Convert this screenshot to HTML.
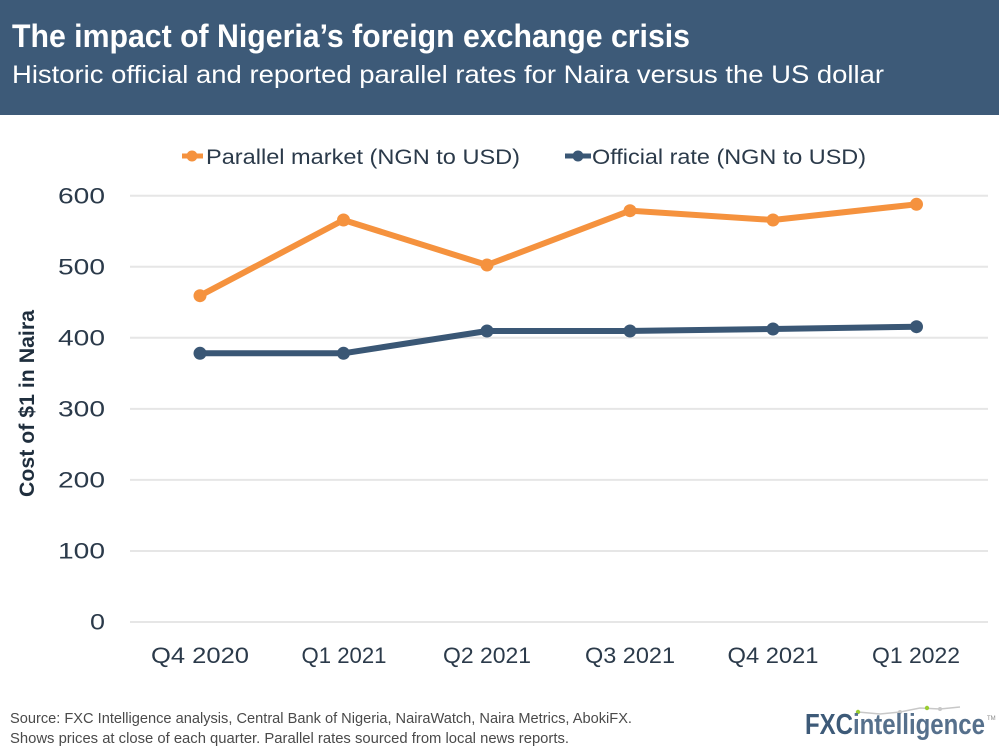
<!DOCTYPE html>
<html><head><meta charset="utf-8"><style>
html,body{margin:0;padding:0;background:#fff;}
svg{display:block;}
</style></head><body>
<svg width="999" height="749" viewBox="0 0 999 749" xmlns="http://www.w3.org/2000/svg" font-family="Liberation Sans, sans-serif">
<rect x="0" y="0" width="999" height="115" fill="#3d5a78"/>
<text x="12" y="47" font-size="32" font-weight="bold" fill="#ffffff" textLength="678" lengthAdjust="spacingAndGlyphs">The impact of Nigeria’s foreign exchange crisis</text>
<text x="12" y="83" font-size="25" fill="#ffffff" textLength="872" lengthAdjust="spacingAndGlyphs">Historic official and reported parallel rates for Naira versus the US dollar</text>

<!-- legend -->
<line x1="182" y1="156" x2="203" y2="156" stroke="#f5923e" stroke-width="5"/>
<circle cx="192" cy="156" r="5.5" fill="#f5923e"/>
<text x="206" y="164" font-size="21" fill="#2b3a4a" textLength="314" lengthAdjust="spacingAndGlyphs">Parallel market (NGN to USD)</text>
<line x1="565" y1="156" x2="591" y2="156" stroke="#3a5775" stroke-width="5"/>
<circle cx="578" cy="156" r="5.5" fill="#3a5775"/>
<text x="592" y="164" font-size="21" fill="#2b3a4a" textLength="274" lengthAdjust="spacingAndGlyphs">Official rate (NGN to USD)</text>

<!-- gridlines -->
<g stroke="#e6e6e6" stroke-width="2">
<line x1="130" y1="195.7" x2="988" y2="195.7"/>
<line x1="130" y1="266.8" x2="988" y2="266.8"/>
<line x1="130" y1="337.8" x2="988" y2="337.8"/>
<line x1="130" y1="408.9" x2="988" y2="408.9"/>
<line x1="130" y1="479.9" x2="988" y2="479.9"/>
<line x1="130" y1="551" x2="988" y2="551"/>
<line x1="130" y1="622" x2="988" y2="622"/>
</g>

<!-- y labels -->
<g font-size="22" fill="#2b3a4a">
<text x="58" y="203.5" textLength="47" lengthAdjust="spacingAndGlyphs">600</text>
<text x="58" y="274.5" textLength="47" lengthAdjust="spacingAndGlyphs">500</text>
<text x="58" y="345.5" textLength="47" lengthAdjust="spacingAndGlyphs">400</text>
<text x="58" y="416.5" textLength="47" lengthAdjust="spacingAndGlyphs">300</text>
<text x="58" y="487.5" textLength="47" lengthAdjust="spacingAndGlyphs">200</text>
<text x="58" y="558.5" textLength="47" lengthAdjust="spacingAndGlyphs">100</text>
<text x="90" y="629.5" textLength="15" lengthAdjust="spacingAndGlyphs">0</text>
</g>

<text transform="translate(34,403.5) rotate(-90)" text-anchor="middle" font-size="21" font-weight="bold" fill="#1f2e3d" textLength="187" lengthAdjust="spacingAndGlyphs">Cost of $1 in Naira</text>

<!-- x labels -->
<g font-size="22" fill="#2b3a4a" text-anchor="middle">
<text x="200" y="663" textLength="98" lengthAdjust="spacingAndGlyphs">Q4 2020</text>
<text x="344" y="663" textLength="85" lengthAdjust="spacingAndGlyphs">Q1 2021</text>
<text x="487" y="663" textLength="88" lengthAdjust="spacingAndGlyphs">Q2 2021</text>
<text x="630" y="663" textLength="90" lengthAdjust="spacingAndGlyphs">Q3 2021</text>
<text x="773" y="663" textLength="91" lengthAdjust="spacingAndGlyphs">Q4 2021</text>
<text x="916" y="663" textLength="88" lengthAdjust="spacingAndGlyphs">Q1 2022</text>
</g>

<!-- series -->
<polyline fill="none" stroke="#f5923e" stroke-width="6" stroke-linejoin="round" points="200,295.7 343.5,220 487,265 630,210.7 773,220 916.5,204.3"/>
<g fill="#f5923e">
<circle cx="200" cy="295.7" r="6.5"/><circle cx="343.5" cy="220" r="6.5"/><circle cx="487" cy="265" r="6.5"/><circle cx="630" cy="210.7" r="6.5"/><circle cx="773" cy="220" r="6.5"/><circle cx="916.5" cy="204.3" r="6.5"/>
</g>
<polyline fill="none" stroke="#3a5775" stroke-width="6" stroke-linejoin="round" points="200,353.3 343.5,353.3 487,331 630,331 773,329 916.5,326.7"/>
<g fill="#3a5775">
<circle cx="200" cy="353.3" r="6.5"/><circle cx="343.5" cy="353.3" r="6.5"/><circle cx="487" cy="331" r="6.5"/><circle cx="630" cy="331" r="6.5"/><circle cx="773" cy="329" r="6.5"/><circle cx="916.5" cy="326.7" r="6.5"/>
</g>

<!-- footer -->
<g font-size="15" fill="#4a4a4a">
<text x="10" y="723" textLength="622" lengthAdjust="spacingAndGlyphs">Source: FXC Intelligence analysis, Central Bank of Nigeria, NairaWatch, Naira Metrics, AbokiFX.</text>
<text x="10" y="743" textLength="559" lengthAdjust="spacingAndGlyphs">Shows prices at close of each quarter. Parallel rates sourced from local news reports.</text>
</g>

<!-- logo -->
<polyline fill="none" stroke="#c8c8c8" stroke-width="1.5" points="858,712 880,714 900,712 920,708 940,709 960,707"/>
<circle cx="858" cy="712" r="2.2" fill="#9acd32"/>
<circle cx="900" cy="712" r="2" fill="#c8c8c8"/>
<circle cx="940" cy="709" r="2" fill="#c8c8c8"/>
<circle cx="927" cy="708" r="2.2" fill="#9acd32"/>
<text x="805" y="734" font-size="29" font-weight="bold" textLength="180" lengthAdjust="spacingAndGlyphs"><tspan fill="#3d5a78">FXC</tspan><tspan fill="#56708c">intelligence</tspan></text>
<text x="987" y="720" font-size="6" fill="#888">TM</text>
</svg>
</body></html>
